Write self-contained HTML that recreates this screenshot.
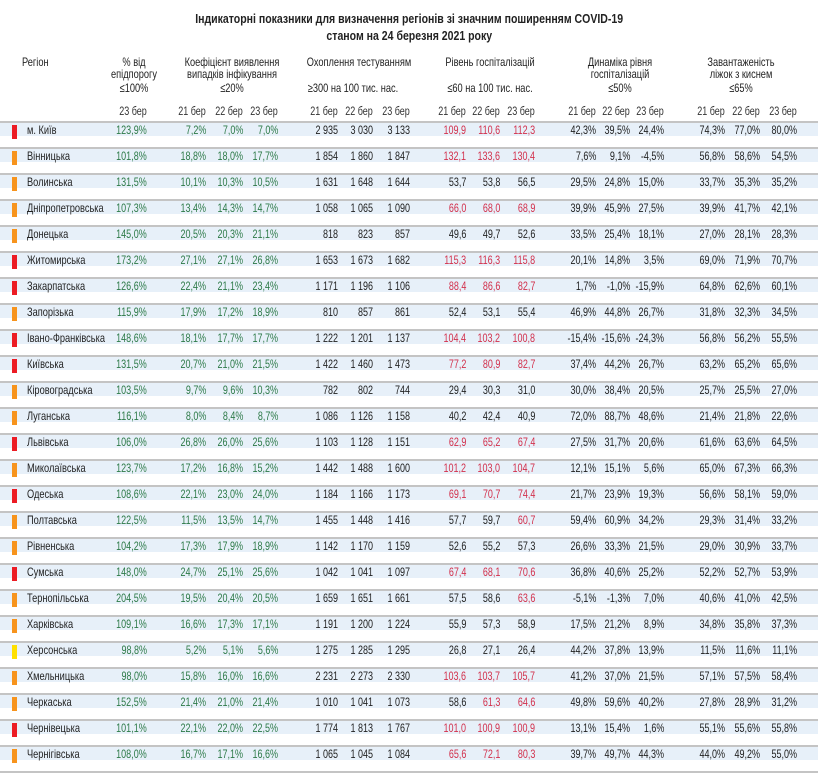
<!DOCTYPE html>
<html><head><meta charset="utf-8"><style>
body{margin:0;width:818px;height:774px;background:#fff;position:relative;overflow:hidden;font-family:"Liberation Sans",sans-serif;color:#222}
.t{position:absolute;left:0;width:818px;text-align:center;font-weight:bold;font-size:13px;color:#222}
.t div{display:inline-block;transform:scaleX(.81);white-space:nowrap}
.h{position:absolute;font-size:12px;color:#222;text-align:center;white-space:nowrap;transform:scaleX(.77);line-height:12px}
.r{position:absolute;left:0;width:818px;height:14px;border-top:2px solid #c4c4c4;background:linear-gradient(#e7f0f9 0,#e7f0f9 13px,transparent 13px)}
.r i{position:absolute;left:12px;top:2px;width:5px;height:14px}
.R{background:#ec1c24}.O{background:#f7941d}.Y{background:#ffe000}
.r b{position:absolute;left:27px;top:0;font-weight:normal;font-size:12px;line-height:14px;transform:scaleX(.77);transform-origin:left;white-space:nowrap;color:#222}
.r span,.l span{position:absolute;top:0;font-size:12px;line-height:14px;transform:scaleX(.75);transform-origin:right;white-space:nowrap;color:#222}
.r span:nth-of-type(-n+4){color:#2d7a48}
.r span.x{color:#d2304c}
.r span:nth-of-type(1),.l span:nth-of-type(1){right:671px}
.r span:nth-of-type(2),.l span:nth-of-type(2){right:612px}
.r span:nth-of-type(3),.l span:nth-of-type(3){right:575px}
.r span:nth-of-type(4),.l span:nth-of-type(4){right:540px}
.r span:nth-of-type(5),.l span:nth-of-type(5){right:480px}
.r span:nth-of-type(6),.l span:nth-of-type(6){right:445px}
.r span:nth-of-type(7),.l span:nth-of-type(7){right:408px}
.r span:nth-of-type(8),.l span:nth-of-type(8){right:352px}
.r span:nth-of-type(9),.l span:nth-of-type(9){right:318px}
.r span:nth-of-type(10),.l span:nth-of-type(10){right:283px}
.r span:nth-of-type(11),.l span:nth-of-type(11){right:222px}
.r span:nth-of-type(12),.l span:nth-of-type(12){right:188px}
.r span:nth-of-type(13),.l span:nth-of-type(13){right:154px}
.r span:nth-of-type(14),.l span:nth-of-type(14){right:93px}
.r span:nth-of-type(15),.l span:nth-of-type(15){right:58px}
.r span:nth-of-type(16),.l span:nth-of-type(16){right:21px}
.l{position:absolute;left:0;top:104px;width:818px;height:14px}
.l span{color:#333}
.end{position:absolute;left:0;top:771px;width:818px;height:2px;background:#c4c4c4}
</style></head><body>
<div class="t" style="top:11px"><div>Індикаторні показники для визначення регіонів зі значним поширенням COVID-19</div></div>
<div class="t" style="top:28px"><div>станом на 24 березня 2021 року</div></div>

<div class="h" style="left:22px;top:56px;transform-origin:left">Регіон</div>
<div class="h" style="left:94px;top:56px;width:80px">% від<br>епідпорогу</div>
<div class="h" style="left:94px;top:82px;width:80px">≤100%</div>
<div class="h" style="left:162px;top:56px;width:140px">Коефіцієнт виявлення<br>випадків інфікування</div>
<div class="h" style="left:192px;top:82px;width:80px">≤20%</div>
<div class="h" style="left:293px;top:56px;width:120px">Охоплення тестуванням</div>
<div class="h" style="left:293px;top:82px;width:120px">≥300 на 100 тис. нас.</div>
<div class="h" style="left:430px;top:56px;width:120px">Рівень госпіталізацій</div>
<div class="h" style="left:430px;top:82px;width:120px">≤60 на 100 тис. нас.</div>
<div class="h" style="left:560px;top:56px;width:120px">Динаміка рівня<br>госпіталізацій</div>
<div class="h" style="left:580px;top:82px;width:80px">≤50%</div>
<div class="h" style="left:681px;top:56px;width:120px">Завантаженість<br>ліжок з киснем</div>
<div class="h" style="left:701px;top:82px;width:80px">≤65%</div>

<div class="l"><span>23 бер</span><span>21 бер</span><span>22 бер</span><span>23 бер</span><span>21 бер</span><span>22 бер</span><span>23 бер</span><span>21 бер</span><span>22 бер</span><span>23 бер</span><span>21 бер</span><span>22 бер</span><span>23 бер</span><span>21 бер</span><span>22 бер</span><span>23 бер</span></div>

<div class="r" style="top:121px"><i class="R"></i><b>м. Київ</b><span>123,9%</span><span>7,2%</span><span>7,0%</span><span>7,0%</span><span>2 935</span><span>3 030</span><span>3 133</span><span class="x">109,9</span><span class="x">110,6</span><span class="x">112,3</span><span>42,3%</span><span>39,5%</span><span>24,4%</span><span>74,3%</span><span>77,0%</span><span>80,0%</span></div>
<div class="r" style="top:147px"><i class="O"></i><b>Вінницька</b><span>101,8%</span><span>18,8%</span><span>18,0%</span><span>17,7%</span><span>1 854</span><span>1 860</span><span>1 847</span><span class="x">132,1</span><span class="x">133,6</span><span class="x">130,4</span><span>7,6%</span><span>9,1%</span><span>-4,5%</span><span>56,8%</span><span>58,6%</span><span>54,5%</span></div>
<div class="r" style="top:173px"><i class="O"></i><b>Волинська</b><span>131,5%</span><span>10,1%</span><span>10,3%</span><span>10,5%</span><span>1 631</span><span>1 648</span><span>1 644</span><span>53,7</span><span>53,8</span><span>56,5</span><span>29,5%</span><span>24,8%</span><span>15,0%</span><span>33,7%</span><span>35,3%</span><span>35,2%</span></div>
<div class="r" style="top:199px"><i class="O"></i><b>Дніпропетровська</b><span>107,3%</span><span>13,4%</span><span>14,3%</span><span>14,7%</span><span>1 058</span><span>1 065</span><span>1 090</span><span class="x">66,0</span><span class="x">68,0</span><span class="x">68,9</span><span>39,9%</span><span>45,9%</span><span>27,5%</span><span>39,9%</span><span>41,7%</span><span>42,1%</span></div>
<div class="r" style="top:225px"><i class="O"></i><b>Донецька</b><span>145,0%</span><span>20,5%</span><span>20,3%</span><span>21,1%</span><span>818</span><span>823</span><span>857</span><span>49,6</span><span>49,7</span><span>52,6</span><span>33,5%</span><span>25,4%</span><span>18,1%</span><span>27,0%</span><span>28,1%</span><span>28,3%</span></div>
<div class="r" style="top:251px"><i class="R"></i><b>Житомирська</b><span>173,2%</span><span>27,1%</span><span>27,1%</span><span>26,8%</span><span>1 653</span><span>1 673</span><span>1 682</span><span class="x">115,3</span><span class="x">116,3</span><span class="x">115,8</span><span>20,1%</span><span>14,8%</span><span>3,5%</span><span>69,0%</span><span>71,9%</span><span>70,7%</span></div>
<div class="r" style="top:277px"><i class="R"></i><b>Закарпатська</b><span>126,6%</span><span>22,4%</span><span>21,1%</span><span>23,4%</span><span>1 171</span><span>1 196</span><span>1 106</span><span class="x">88,4</span><span class="x">86,6</span><span class="x">82,7</span><span>1,7%</span><span>-1,0%</span><span>-15,9%</span><span>64,8%</span><span>62,6%</span><span>60,1%</span></div>
<div class="r" style="top:303px"><i class="O"></i><b>Запорізька</b><span>115,9%</span><span>17,9%</span><span>17,2%</span><span>18,9%</span><span>810</span><span>857</span><span>861</span><span>52,4</span><span>53,1</span><span>55,4</span><span>46,9%</span><span>44,8%</span><span>26,7%</span><span>31,8%</span><span>32,3%</span><span>34,5%</span></div>
<div class="r" style="top:329px"><i class="R"></i><b>Івано-Франківська</b><span>148,6%</span><span>18,1%</span><span>17,7%</span><span>17,7%</span><span>1 222</span><span>1 201</span><span>1 137</span><span class="x">104,4</span><span class="x">103,2</span><span class="x">100,8</span><span>-15,4%</span><span>-15,6%</span><span>-24,3%</span><span>56,8%</span><span>56,2%</span><span>55,5%</span></div>
<div class="r" style="top:355px"><i class="R"></i><b>Київська</b><span>131,5%</span><span>20,7%</span><span>21,0%</span><span>21,5%</span><span>1 422</span><span>1 460</span><span>1 473</span><span class="x">77,2</span><span class="x">80,9</span><span class="x">82,7</span><span>37,4%</span><span>44,2%</span><span>26,7%</span><span>63,2%</span><span>65,2%</span><span>65,6%</span></div>
<div class="r" style="top:381px"><i class="O"></i><b>Кіровоградська</b><span>103,5%</span><span>9,7%</span><span>9,6%</span><span>10,3%</span><span>782</span><span>802</span><span>744</span><span>29,4</span><span>30,3</span><span>31,0</span><span>30,0%</span><span>38,4%</span><span>20,5%</span><span>25,7%</span><span>25,5%</span><span>27,0%</span></div>
<div class="r" style="top:407px"><i class="O"></i><b>Луганська</b><span>116,1%</span><span>8,0%</span><span>8,4%</span><span>8,7%</span><span>1 086</span><span>1 126</span><span>1 158</span><span>40,2</span><span>42,4</span><span>40,9</span><span>72,0%</span><span>88,7%</span><span>48,6%</span><span>21,4%</span><span>21,8%</span><span>22,6%</span></div>
<div class="r" style="top:433px"><i class="R"></i><b>Львівська</b><span>106,0%</span><span>26,8%</span><span>26,0%</span><span>25,6%</span><span>1 103</span><span>1 128</span><span>1 151</span><span class="x">62,9</span><span class="x">65,2</span><span class="x">67,4</span><span>27,5%</span><span>31,7%</span><span>20,6%</span><span>61,6%</span><span>63,6%</span><span>64,5%</span></div>
<div class="r" style="top:459px"><i class="O"></i><b>Миколаївська</b><span>123,7%</span><span>17,2%</span><span>16,8%</span><span>15,2%</span><span>1 442</span><span>1 488</span><span>1 600</span><span class="x">101,2</span><span class="x">103,0</span><span class="x">104,7</span><span>12,1%</span><span>15,1%</span><span>5,6%</span><span>65,0%</span><span>67,3%</span><span>66,3%</span></div>
<div class="r" style="top:485px"><i class="R"></i><b>Одеська</b><span>108,6%</span><span>22,1%</span><span>23,0%</span><span>24,0%</span><span>1 184</span><span>1 166</span><span>1 173</span><span class="x">69,1</span><span class="x">70,7</span><span class="x">74,4</span><span>21,7%</span><span>23,9%</span><span>19,3%</span><span>56,6%</span><span>58,1%</span><span>59,0%</span></div>
<div class="r" style="top:511px"><i class="O"></i><b>Полтавська</b><span>122,5%</span><span>11,5%</span><span>13,5%</span><span>14,7%</span><span>1 455</span><span>1 448</span><span>1 416</span><span>57,7</span><span>59,7</span><span class="x">60,7</span><span>59,4%</span><span>60,9%</span><span>34,2%</span><span>29,3%</span><span>31,4%</span><span>33,2%</span></div>
<div class="r" style="top:537px"><i class="O"></i><b>Рівненська</b><span>104,2%</span><span>17,3%</span><span>17,9%</span><span>18,9%</span><span>1 142</span><span>1 170</span><span>1 159</span><span>52,6</span><span>55,2</span><span>57,3</span><span>26,6%</span><span>33,3%</span><span>21,5%</span><span>29,0%</span><span>30,9%</span><span>33,7%</span></div>
<div class="r" style="top:563px"><i class="R"></i><b>Сумська</b><span>148,0%</span><span>24,7%</span><span>25,1%</span><span>25,6%</span><span>1 042</span><span>1 041</span><span>1 097</span><span class="x">67,4</span><span class="x">68,1</span><span class="x">70,6</span><span>36,8%</span><span>40,6%</span><span>25,2%</span><span>52,2%</span><span>52,7%</span><span>53,9%</span></div>
<div class="r" style="top:589px"><i class="O"></i><b>Тернопільська</b><span>204,5%</span><span>19,5%</span><span>20,4%</span><span>20,5%</span><span>1 659</span><span>1 651</span><span>1 661</span><span>57,5</span><span>58,6</span><span class="x">63,6</span><span>-5,1%</span><span>-1,3%</span><span>7,0%</span><span>40,6%</span><span>41,0%</span><span>42,5%</span></div>
<div class="r" style="top:615px"><i class="O"></i><b>Харківська</b><span>109,1%</span><span>16,6%</span><span>17,3%</span><span>17,1%</span><span>1 191</span><span>1 200</span><span>1 224</span><span>55,9</span><span>57,3</span><span>58,9</span><span>17,5%</span><span>21,2%</span><span>8,9%</span><span>34,8%</span><span>35,8%</span><span>37,3%</span></div>
<div class="r" style="top:641px"><i class="Y"></i><b>Херсонська</b><span>98,8%</span><span>5,2%</span><span>5,1%</span><span>5,6%</span><span>1 275</span><span>1 285</span><span>1 295</span><span>26,8</span><span>27,1</span><span>26,4</span><span>44,2%</span><span>37,8%</span><span>13,9%</span><span>11,5%</span><span>11,6%</span><span>11,1%</span></div>
<div class="r" style="top:667px"><i class="O"></i><b>Хмельницька</b><span>98,0%</span><span>15,8%</span><span>16,0%</span><span>16,6%</span><span>2 231</span><span>2 273</span><span>2 330</span><span class="x">103,6</span><span class="x">103,7</span><span class="x">105,7</span><span>41,2%</span><span>37,0%</span><span>21,5%</span><span>57,1%</span><span>57,5%</span><span>58,4%</span></div>
<div class="r" style="top:693px"><i class="O"></i><b>Черкаська</b><span>152,5%</span><span>21,4%</span><span>21,0%</span><span>21,4%</span><span>1 010</span><span>1 041</span><span>1 073</span><span>58,6</span><span class="x">61,3</span><span class="x">64,6</span><span>49,8%</span><span>59,6%</span><span>40,2%</span><span>27,8%</span><span>28,9%</span><span>31,2%</span></div>
<div class="r" style="top:719px"><i class="R"></i><b>Чернівецька</b><span>101,1%</span><span>22,1%</span><span>22,0%</span><span>22,5%</span><span>1 774</span><span>1 813</span><span>1 767</span><span class="x">101,0</span><span class="x">100,9</span><span class="x">100,9</span><span>13,1%</span><span>15,4%</span><span>1,6%</span><span>55,1%</span><span>55,6%</span><span>55,8%</span></div>
<div class="r" style="top:745px"><i class="O"></i><b>Чернігівська</b><span>108,0%</span><span>16,7%</span><span>17,1%</span><span>16,6%</span><span>1 065</span><span>1 045</span><span>1 084</span><span class="x">65,6</span><span class="x">72,1</span><span class="x">80,3</span><span>39,7%</span><span>49,7%</span><span>44,3%</span><span>44,0%</span><span>49,2%</span><span>55,0%</span></div>
<div class="end"></div>
</body></html>
